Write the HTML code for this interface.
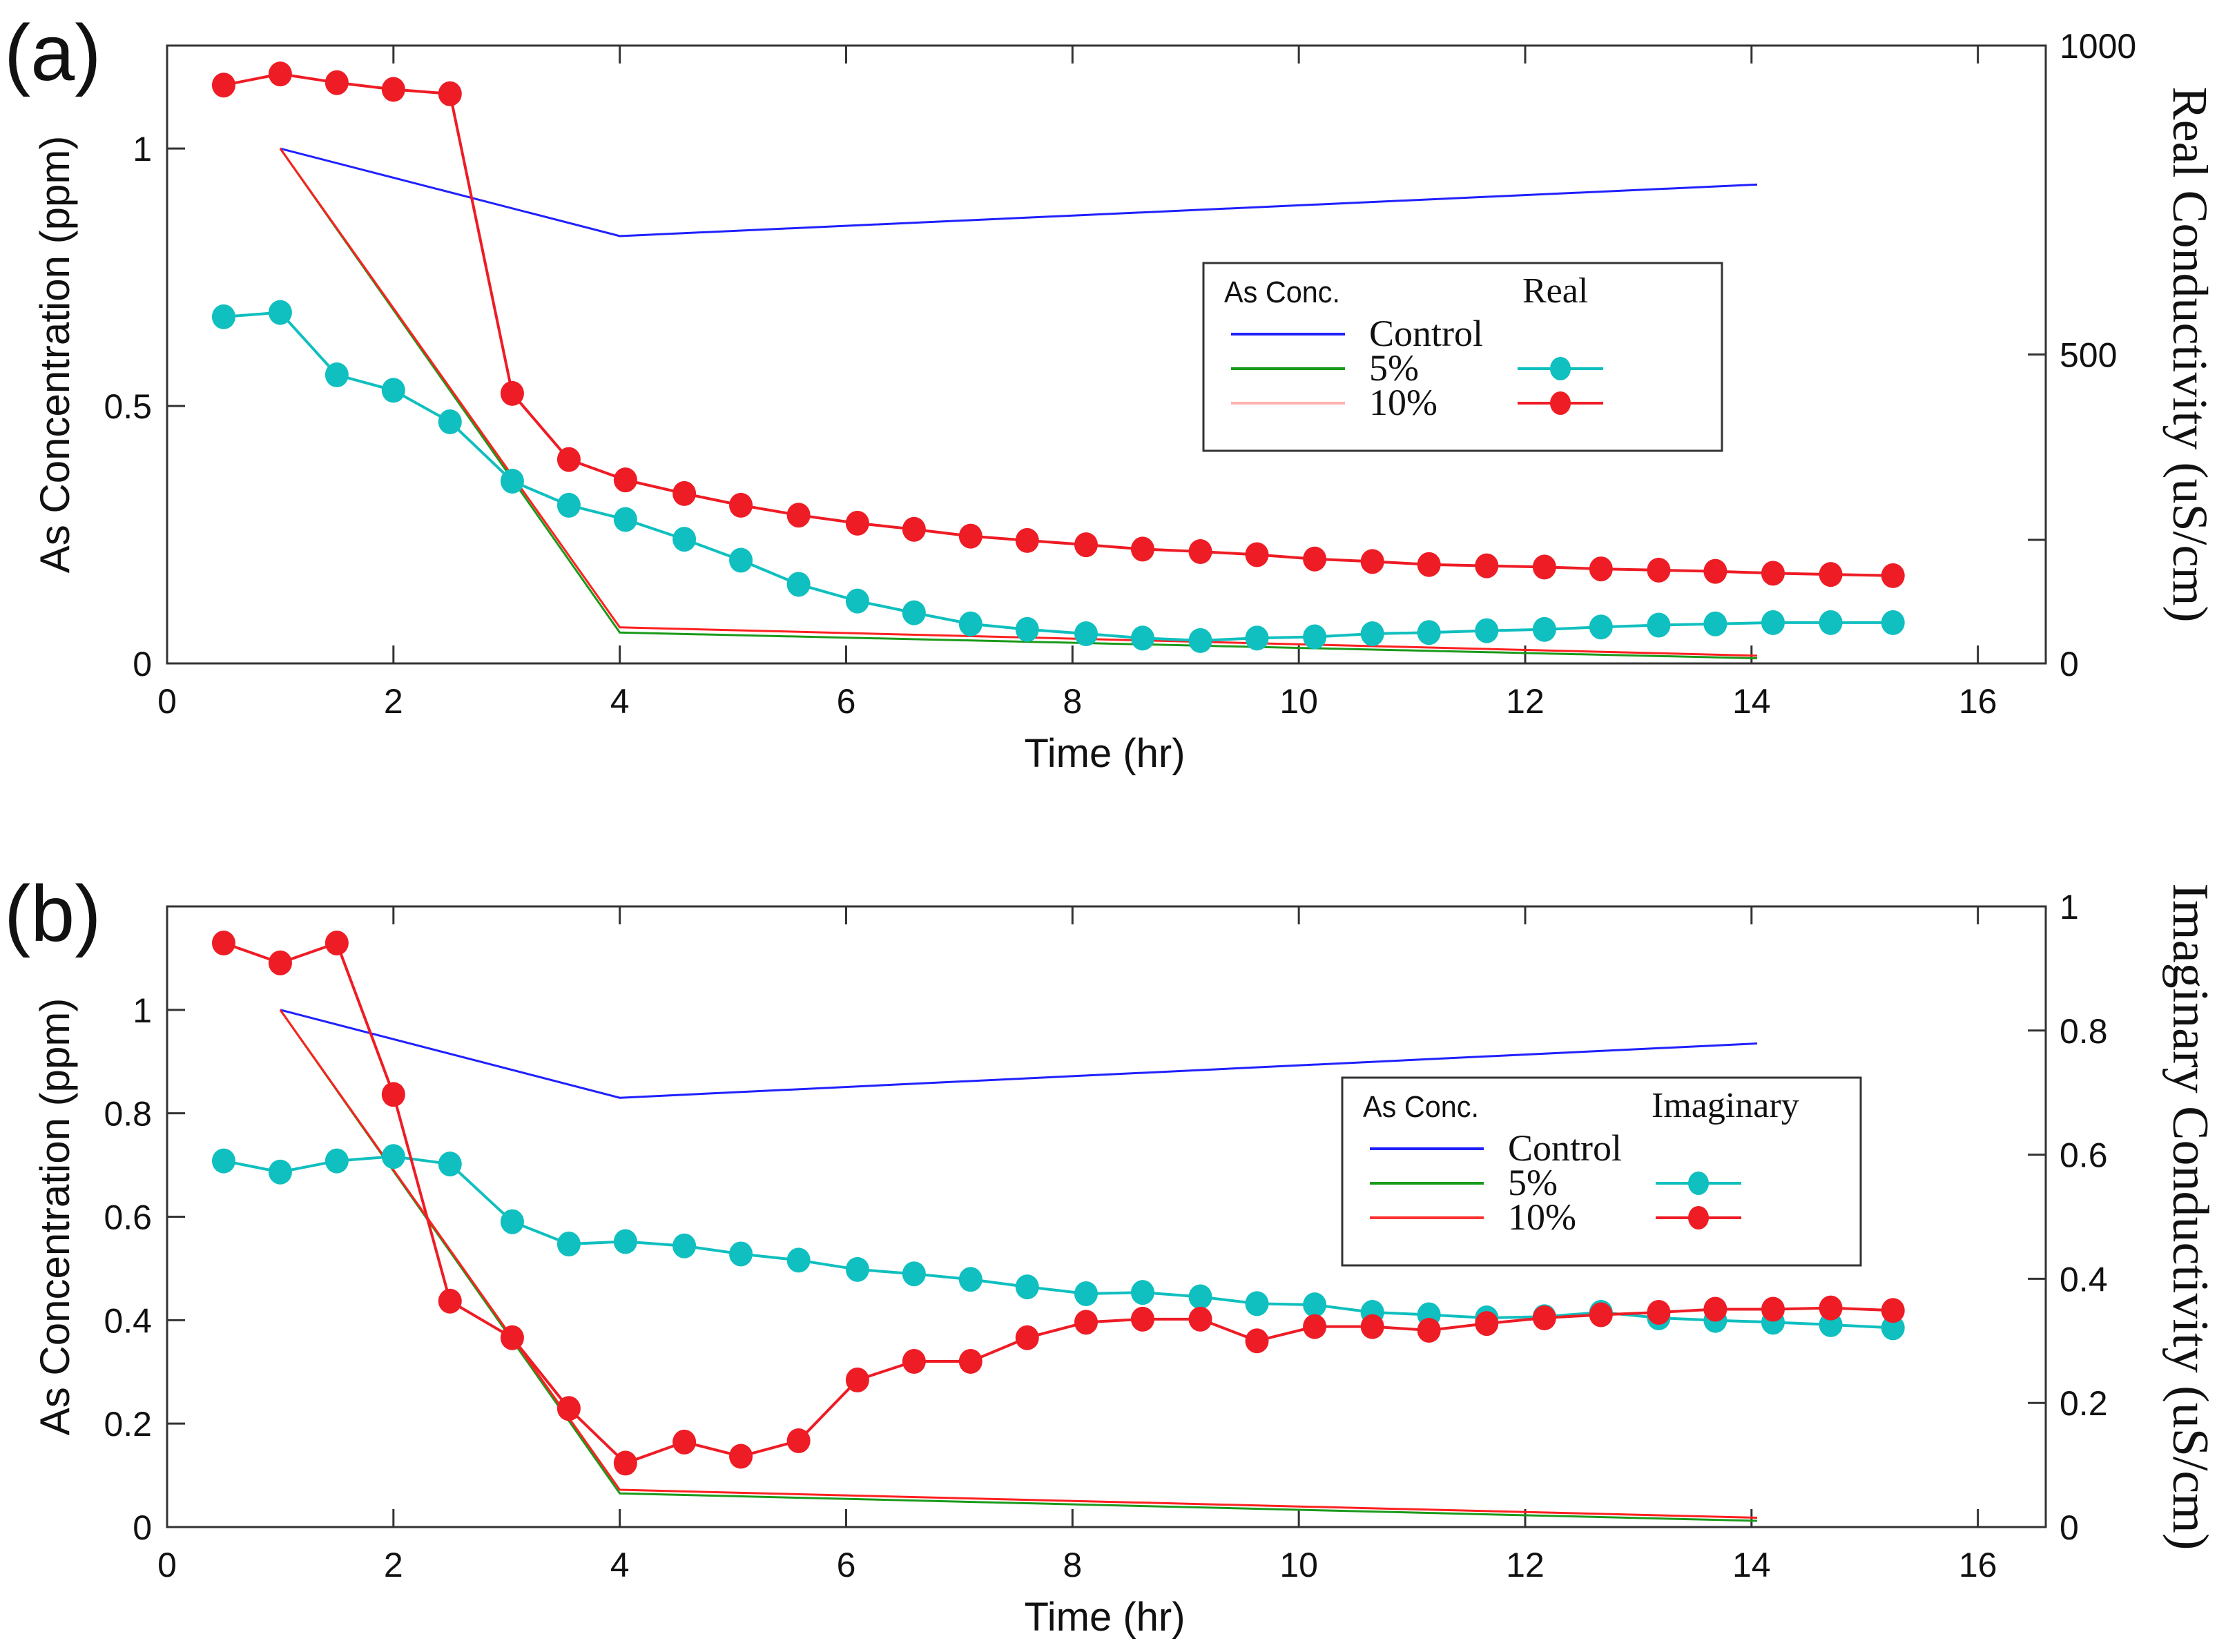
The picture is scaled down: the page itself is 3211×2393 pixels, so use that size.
<!DOCTYPE html>
<html><head><meta charset="utf-8"><style>
html,body{margin:0;padding:0;background:#fff;}
svg{display:block;}
text{font-family:"Liberation Sans",sans-serif;fill:#111;}
.serif{font-family:"Liberation Serif",serif;}
</style></head><body>
<svg id="fig" width="3211" height="2393" viewBox="0 0 3211 2393" xmlns="http://www.w3.org/2000/svg"></svg>
<script>
const times=[0.5,1.0,1.5,2.0,2.5,3.05,3.55,4.05,4.57,5.07,5.58,6.1,6.6,7.1,7.6,8.12,8.62,9.13,9.63,10.14,10.65,11.15,11.66,12.17,12.67,13.18,13.68,14.19,14.7,15.25];
const realRed=[936,954,940,929,922,437,330,297,275,256,240,227,217,206,199,192,185,181,176,169,165,160,158,156,153,151,149,146,144,142];
const realCyan=[561,568,467,442,391,295,256,233,201,167,128,101,82,64,55,48,41,37,41,43,48,50,53,55,59,62,64,66,66,66];
const imagRed=[0.941,0.909,0.941,0.697,0.364,0.305,0.191,0.103,0.137,0.114,0.139,0.237,0.267,0.267,0.305,0.33,0.335,0.335,0.30,0.323,0.323,0.317,0.328,0.337,0.342,0.346,0.351,0.351,0.353,0.349];
const imagCyan=[0.59,0.572,0.59,0.597,0.585,0.492,0.456,0.46,0.453,0.44,0.43,0.415,0.408,0.399,0.387,0.376,0.378,0.371,0.36,0.358,0.346,0.342,0.337,0.339,0.346,0.337,0.333,0.33,0.326,0.321];
const concTimes=[1,4,14.05];
const controlA=[1,0.83,0.93];
const fiveA=[1,0.06,0.01];
const tenA=[1,0.07,0.015];
const controlB=[1,0.83,0.935];
const fiveB=[1,0.065,0.012];
const tenB=[1,0.072,0.018];
const xTicks=[0,2,4,6,8,10,12,14,16];
const leftTicksA=[0,0.5,1];
const leftTicksB=[0,0.2,0.4,0.6,0.8,1];
const rightTicksA=[0,200,500,1000];
const rightLabelsA=[0,500,1000];
const rightTicksB=[0,0.2,0.4,0.6,0.8,1];

const NS="http://www.w3.org/2000/svg";
const svg=document.getElementById('fig');
function mk(tag,attrs,parent,txt){const e=document.createElementNS(NS,tag);for(const k in attrs)e.setAttribute(k,attrs[k]);if(txt!==undefined)e.textContent=txt;(parent||svg).appendChild(e);return e;}

function panel(cfg){
  const L=242,R=2963,T=cfg.top,B=cfg.bottom;
  const g=mk('g',{});
  
  
  const X=v=>L+v*(R-L)/16.6;
  const YL=v=>B-v*(B-T)/1.2;
  const YR=v=>B-v*(B-T)/cfg.rmax;
  const box=mk('rect',{x:L,y:T,width:R-L,height:B-T,fill:'none',stroke:'#333','stroke-width':3},g);
  
  
  xTicks.forEach(t=>{
    mk('line',{x1:X(t),x2:X(t),y1:B,y2:B-26,stroke:'#333','stroke-width':3},g);
    mk('line',{x1:X(t),x2:X(t),y1:T,y2:T+26,stroke:'#333','stroke-width':3},g);
    const tl=mk('text',{x:X(t),y:B+72,'font-size':50,'text-anchor':'middle'},g,String(t));
    
    
  });
  cfg.lt.forEach(t=>{
    mk('line',{x1:L,x2:L+26,y1:YL(t),y2:YL(t),stroke:'#333','stroke-width':3},g);
    const tl=mk('text',{x:L-22,y:YL(t)+18,'font-size':50,'text-anchor':'end'},g,String(t));
    
    
  });
  cfg.rt.forEach(t=>{
    mk('line',{x1:R,x2:R-26,y1:YR(t),y2:YR(t),stroke:'#333','stroke-width':3},g);
  });
  cfg.rl.forEach(t=>{
    const tl=mk('text',{x:R+20,y:YR(t)+18,'font-size':50},g,String(t));
    
    
  });
  const xt=mk('text',{x:1600,y:B+150,'font-size':58,'text-anchor':'middle'},g,'Time (hr)');
  
  
  const yc=(T+B)/2;
  const lt=mk('text',{x:0,y:0,'font-size':60,'text-anchor':'middle',transform:`translate(100,${yc}) rotate(-90)`},g,'As Concentration (ppm)');
  
  
  const rtl=mk('text',{x:0,y:0,'font-size':cfg.rfs,'text-anchor':'middle','class':'serif',transform:`translate(3148,${yc}) rotate(90)`},g,cfg.rtitle);
  
  
  const pl=mk('text',{x:6,y:T+50,'font-size':115},g,cfg.label);
  
  
  function cline(vals,color,name){
    const p=mk('polyline',{points:concTimes.map((t,i)=>X(t)+','+YL(vals[i])).join(' '),fill:'none',stroke:color,'stroke-width':3},g);
    
    
  }
  cline(cfg.ctrl,'#2020ff','control-line');
  cline(cfg.five,'#1a9a1a','five-percent-line');
  cline(cfg.ten,'#ff2020','ten-percent-line');
  function mseries(vals,color,name){
    const p=mk('polyline',{points:times.map((t,i)=>X(t)+','+YR(vals[i])).join(' '),fill:'none',stroke:color,'stroke-width':4},g);
    
    
    times.forEach((t,i)=>{
      const c=mk('ellipse',{cx:X(t),cy:YR(vals[i]),rx:17,ry:18,fill:color},g);
      
      
    });
  }
  mseries(cfg.cyan,'#10bfbf','five-percent-conductivity');
  mseries(cfg.red,'#ee1c25','ten-percent-conductivity');
  const lx=cfg.lx,ly=cfg.ly;
  const lg=mk('g',{},g);
  
  
  mk('rect',{x:lx,y:ly,width:751,height:272,fill:'#fff',stroke:'#333','stroke-width':3},lg);
  mk('text',{x:lx+30,y:ly+57,'font-size':44,textLength:168,lengthAdjust:'spacingAndGlyphs'},lg,'As Conc.');
  mk('text',{x:cfg.ltx,y:ly+57,'font-size':52,'class':'serif'},lg,cfg.ltitle);
  const rows=[['Control','#2020ff'],['5%','#1a9a1a'],['10%',cfg.tenLeg]];
  rows.forEach((r,i)=>{
    const yy=ly+103+i*50;
    const e=mk('line',{x1:lx+40,x2:lx+205,y1:yy,y2:yy,stroke:r[1],'stroke-width':4},lg);
    
    
    mk('text',{x:lx+240,y:yy+17,'font-size':54,'class':'serif'},lg,r[0]);
  });
  [['#10bfbf',1],['#ee1c25',2]].forEach(([c,i])=>{
    const yy=ly+103+i*50;
    mk('line',{x1:cfg.mkx-62,x2:cfg.mkx+62,y1:yy,y2:yy,stroke:c,'stroke-width':4},lg);
    mk('ellipse',{cx:cfg.mkx,cy:yy,rx:15,ry:17,fill:c},lg);
  });
}
panel({name:'panel-a',top:66,bottom:961,rmax:1000,lt:leftTicksA,rt:rightTicksA,rl:rightLabelsA,rtitle:'Real Conductivity (uS/cm)',rfs:72,label:'(a)',
  ctrl:controlA,five:fiveA,ten:tenA,cyan:realCyan,red:realRed,lx:1743,ly:381,ltitle:'Real',ltx:2205,mkx:2260,tenLeg:'#ffb0b0'});
panel({name:'panel-b',top:1313,bottom:2212,rmax:1,lt:leftTicksB,rt:rightTicksB,rl:rightTicksB,rtitle:'Imaginary Conductivity (uS/cm)',rfs:74,label:'(b)',
  ctrl:controlB,five:fiveB,ten:tenB,cyan:imagCyan,red:imagRed,lx:1944,ly:1561,ltitle:'Imaginary',ltx:2392,mkx:2460,tenLeg:'#ff3030'});
</script>
</body></html>
